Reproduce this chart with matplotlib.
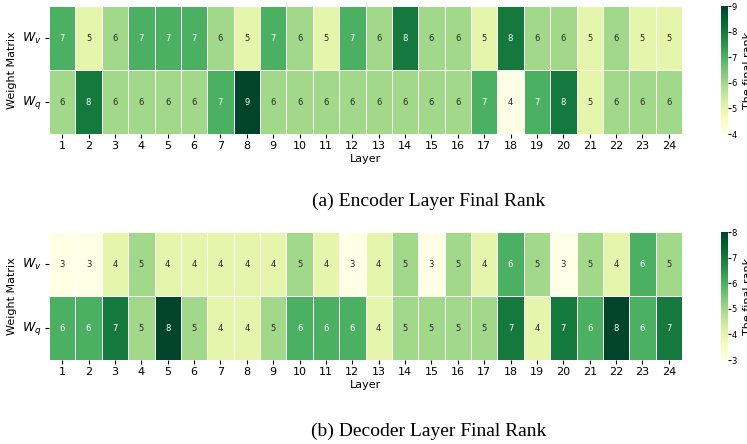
import numpy as np
import matplotlib
matplotlib.use("Agg")
import matplotlib.pyplot as plt
import seaborn as sns

# data
layers = [str(i) for i in range(1, 25)]
rows = [r"$W_v$", r"$W_q$"]

enc_wv = [7, 5, 6, 7, 7, 7, 6, 5, 7, 6, 5, 7, 6, 8, 6, 6, 5, 8, 6, 6, 5, 6, 5, 5]
enc_wq = [6, 8, 6, 6, 6, 6, 7, 9, 6, 6, 6, 6, 6, 6, 6, 6, 7, 4, 7, 8, 5, 6, 6, 6]

dec_wv = [3, 3, 4, 5, 4, 4, 4, 4, 4, 5, 4, 3, 4, 5, 3, 5, 4, 6, 5, 3, 5, 4, 6, 5]
dec_wq = [6, 6, 7, 5, 8, 5, 4, 4, 5, 6, 6, 6, 4, 5, 5, 5, 5, 7, 4, 7, 6, 8, 6, 7]

captions = ["(a) Encoder Layer Final Rank", "(b) Decoder Layer Final Rank"]

W, H = 747, 444
fig = plt.figure(figsize=(W / 100, H / 100), dpi=100)


def box(x0, y0, x1, y1):
    # pixel box -> figure fraction
    return [x0 / W, 1 - y1 / H, (x1 - x0) / W, (y1 - y0) / H]


panels = [
    (np.array([enc_wv, enc_wq]), 6, 134, 201),
    (np.array([dec_wv, dec_wq]), 232, 360, 431),
]

for (data, top, bot, cap_y), cap in zip(panels, captions):
    ax = fig.add_axes(box(49, top, 682, bot))
    cax = fig.add_axes(box(720.5, top, 727.5, bot))
    sns.heatmap(data, ax=ax, cbar_ax=cax, cmap="YlGn",
                vmin=data.min(), vmax=data.max(),
                annot=True, fmt="d", annot_kws={"size": 6},
                linewidths=0.6, linecolor="white",
                xticklabels=layers, yticklabels=rows)
    ax.set_xlabel("Layer", fontsize=8, labelpad=2)
    ax.set_ylabel("Weight Matrix", fontsize=8)
    ax.yaxis.set_label_coords((17 - 49) / 633, 0.5)
    ax.tick_params(axis="x", labelsize=8, length=3, pad=2, rotation=0)
    ax.tick_params(axis="y", labelsize=9, length=3, pad=2, rotation=0)
    cax.tick_params(labelsize=6, length=2, pad=1)
    cax.set_ylabel("The final rank", fontsize=8, labelpad=4)
    for s in cax.spines.values():
        s.set_visible(False)
    fig.text(429 / W, 1 - cap_y / H, cap, ha="center", va="center",
             family="Liberation Serif", fontsize=14)

fig.savefig("out.png", dpi=100)
